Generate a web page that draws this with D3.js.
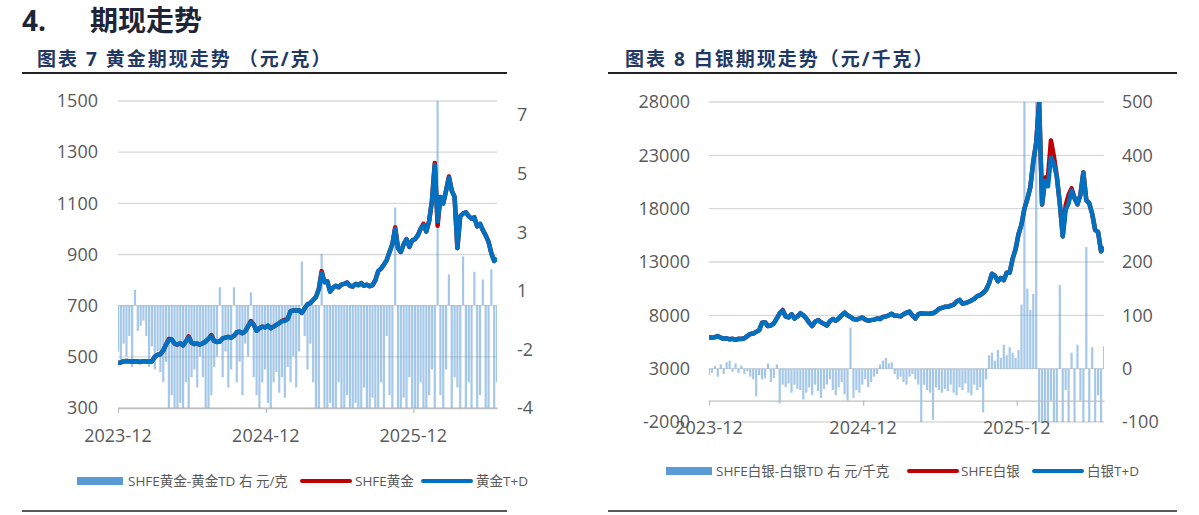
<!DOCTYPE html>
<html>
<head>
<meta charset="utf-8">
<script src="https://cdn.jsdelivr.net/npm/d3@7"></script>
<style>
    body { margin: 0; background: #fff; }
    text { font-family: "Open Sans", "Noto Sans CJK SC", sans-serif; }
</style>
</head>
<body>
<script>
// weekly points (Fridays), Dec 2023 - Jun 2026
let dates = d3.timeFriday.range(new Date(2023, 11, 1), new Date(2026, 5, 27))
let yearTicks = [new Date(2023, 11, 1), new Date(2024, 11, 1), new Date(2025, 11, 1)]

// gold, 元/克
let goldTd = [476, 478, 482, 484, 483, 481, 483, 482, 480, 483, 482, 481, 483,
    500, 508, 510, 525, 548, 565, 568, 552,
    548, 553, 545, 560, 575, 555, 550, 552, 548, 553,
    560, 570, 580, 562, 558, 560, 572, 575, 578, 575,
    582, 596, 598, 592, 600, 620, 636, 625, 602, 612,
    618, 615, 622, 612, 618, 625, 632, 640, 640, 648,
    678, 682, 680, 682, 672, 690, 705, 710, 722, 734,
    765, 828, 792, 795, 755, 770, 778, 772, 782, 785,
    790, 778, 775, 785, 780, 788, 778, 782, 776, 780,
    800, 835, 845, 860, 878, 910, 940, 1000, 925, 910,
    940, 960, 930, 955, 960, 975, 1000, 1015, 990, 1030,
    1110, 1250, 1030, 1125, 1100, 1150, 1200, 1150, 1125, 925,
    1050, 1060, 1065, 1050, 1040, 1045, 1010, 1020, 995, 975,
    950, 905, 875, 885]
let goldShfe = [476, 478, 482, 484, 483, 481, 483, 482, 480, 483, 482, 481, 483,
    500, 508, 510, 525, 548, 570, 568, 552,
    548, 553, 545, 560, 580, 555, 550, 552, 548, 553,
    560, 570, 585, 562, 558, 560, 572, 575, 578, 575,
    582, 596, 598, 592, 600, 620, 640, 625, 602, 612,
    618, 615, 622, 612, 618, 625, 632, 640, 645, 648,
    678, 682, 680, 682, 672, 690, 705, 710, 722, 734,
    765, 835, 792, 795, 755, 770, 778, 772, 782, 785,
    790, 778, 775, 785, 780, 788, 778, 782, 776, 780,
    800, 835, 845, 860, 878, 910, 940, 1006, 925, 910,
    940, 960, 930, 955, 960, 975, 1000, 1020, 990, 1030,
    1110, 1258, 1012, 1125, 1100, 1150, 1205, 1150, 1125, 925,
    1050, 1060, 1065, 1050, 1040, 1045, 1010, 1020, 995, 975,
    950, 905, 875, 885]
let goldSpread = [-1.8, -2.2, -1.5, -2.0, -1.2, -2.4,
    0.6, -1.0, -0.8,
    -0.6, -1.2, -2.4, -1.6,
    -2.5, -1.8, -2.6, -3.0, -2.2,
    -4.2, -3.5, -4.2, -4.5, -3.8, -4.2, -3.0, -4.2, -2.8,
    -2.5, -3.2, -2.0, -2.8,
    -4.2, -4.5, -3.5, -2.4,
    -2.0, 0.7, -2.8, -1.8, -3.2, -2.5, 0.7,
    -3.0, -2.2, -3.5, -1.5, -2.0, 0.5,
    -2.8, -3.5, -4.2, -3.0, -2.5,
    -3.8, -4.2, -3.0, -2.6, -3.4, -2.8, -3.6, -2.4,
    -3.0, -2.0, -3.2, -1.8, 1.7,
    -1.2, -2.5, -1.5, -3.0, -4.2,
    -4.5, 2.0, -4.2, -4.2, -3.8,
    -4.2, -4.5, -3.0, -4.2, -4.2, -3.5, -4.5, -4.2, -3.8, -4.2,
    -4.5, -3.2, -4.2, -4.2, -3.6, -4.5, -4.2, -3.0, -4.2, -1.2,
    -3.5, -4.2, 3.8, -4.2, -4.5, -3.6, -4.2, -2.8, -4.2,
    -4.2, -4.5, -3.0, -4.2, -4.2, -3.5, -2.5, -4.2,
    8.5,
    -3.5, -4.2, -2.5, 1.2, -4.2, -2.8, -3.2,
    -4.2, 1.9, -4.2, -3.0, -4.2, 1.3, -4.2, -3.5, 1.0, -4.2, -4.2, 1.4, -4.2, -3.0]

// silver, 元/千克
let silverTd = [5950, 5900, 5950, 6050, 5900, 5800, 5850, 5750, 5800, 5700, 5800, 5780, 5850,
    6050, 6250, 6300, 6450, 6600, 7300, 7350, 7000,
    7050, 7250, 7700, 8200, 8450, 7900, 7800, 8100, 7700, 7900,
    8200, 8000, 7700, 7300, 7000, 7400, 7550, 7350, 7200, 7050,
    7450, 7650, 7500, 7700, 8000, 8250, 8000, 7850, 7650, 7600,
    7700, 7800, 7600, 7500, 7550, 7600, 7700, 7650, 7850, 7900,
    8000, 8150, 7950, 7950, 7900, 8100, 8250, 8350, 8000, 7700,
    8100, 8200, 8150, 8150, 8150, 8200, 8350, 8600, 8700, 8800,
    8800, 8900, 9000, 9300, 9450, 9100, 9150, 9250, 9400, 9550,
    9800, 9900, 10100, 10400, 11000, 11900, 11700, 11200, 11500, 11300,
    12000, 12000, 13300, 14200, 15600, 16500, 18000, 18900, 20000, 22400,
    24200, 27900, 18400, 20600, 20100, 22800, 22200, 21000, 18500, 15400,
    17900, 18500, 19700, 19000, 18400, 19300, 21400, 18800, 18500, 17500,
    16000, 15800, 14000, 14400]
let silverShfe = [5950, 5900, 5950, 6050, 5900, 5800, 5850, 5750, 5800, 5700, 5800, 5780, 5850,
    6050, 6250, 6300, 6450, 6600, 7300, 7350, 7000,
    7050, 7250, 7700, 8200, 8500, 7900, 7800, 8100, 7700, 7900,
    8200, 8000, 7700, 7300, 7000, 7400, 7550, 7350, 7200, 7050,
    7450, 7650, 7500, 7700, 8000, 8250, 8000, 7850, 7650, 7600,
    7700, 7800, 7600, 7500, 7550, 7600, 7700, 7650, 7850, 7900,
    8000, 8150, 7950, 7950, 7900, 8100, 8250, 8350, 8000, 7700,
    8100, 8200, 8150, 8150, 8150, 8200, 8350, 8600, 8700, 8800,
    8800, 8900, 9000, 9300, 9450, 9100, 9150, 9250, 9400, 9550,
    9800, 9900, 10100, 10400, 11000, 11900, 11700, 11200, 11500, 11300,
    12000, 12000, 13300, 14200, 15600, 16500, 18000, 18900, 20000, 22400,
    24200, 28000, 18400, 20900, 21000, 24400, 22900, 21000, 18500, 15400,
    18300, 19300, 19900, 19000, 18400, 19300, 21400, 18800, 18500, 17500,
    16000, 15800, 14000, 14400]
let silverSpread = [-12, -8, 5, -15, 8, -10, 12, 15, -6, 10, -8,
    6, -10, -5, -15, -20, -52,
    -12, -20, -18, 10, -25, -18,
    8, -65, -30, -35, -28, -45, -30, -38,
    -40, -58, -45, -35, -50, -30, -42, -55, -38, -30,
    -20, -40, -50, -35, -25, -48, -60, 77,
    -55, -40, -45, -30, -20, -35, -25, -15,
    -10, 8, 15, 20, 10, 12, -10, -20, -15,
    -25, -30, -15, -10, -20, -30, -100,
    -30, -40, -45, -96, -35, -40, -45, -38,
    -42, -30, -45, -50, -35, -40, -28, -45, -50, -30, -40, -35,
    -82, -20, 25,
    30, 15, 35, 20, 45, 25, 40, 30, 20, 35,
    120, 520, 150, 110, 140, 520,
    -110, -110, -110, -100, -60, -110, -100, 157, -110,
    -40, -110, 30, -110, 45, -60, -110, 228, -110, 40, -110, -50, -110, 42]

// axis ticks
let goldLeftTicks = [300, 500, 700, 900, 1100, 1300, 1500]
let goldRightTicks = [-4, -1.72, 0.56, 2.84, 5.12, 7.4]
let goldRightLabels = ['-4', '-2', '1', '3', '5', '7']
let silverLeftTicks = [-2000, 3000, 8000, 13000, 18000, 23000, 28000]
let silverRightTicks = [-100, 0, 100, 200, 300, 400, 500]

function drawChart(svg, c){
    let x = d3.scaleTime().domain(d3.extent(dates)).range([c.left, c.right])
    let yL = d3.scaleLinear().domain(c.leftDomain).range([c.bottom, c.top])
    let yR = d3.scaleLinear().domain(c.rightDomain).range([c.bottom, c.top])

    svg.append('clipPath').attr('id', c.id)
        .append('rect')
        .attr('x', c.left).attr('y', c.top)
        .attr('width', c.right - c.left).attr('height', c.bottom - c.top)

    // gridlines
    svg.append('g').selectAll('line')
        .data(c.leftTicks)
        .join('line')
        .attr('x1', c.left).attr('x2', c.right)
        .attr('y1', d => yL(d)).attr('y2', d => yL(d))
        .attr('stroke', '#d9d9d9').attr('stroke-width', 1.3)

    // spread bars on the right axis
    svg.append('g').attr('clip-path', 'url(#' + c.id + ')')
        .selectAll('rect')
        .data(c.spread)
        .join('rect')
        .attr('x', (d, i) => x(dates[i]) - 1.1)
        .attr('width', 2.2)
        .attr('y', d => Math.min(yR(0), yR(d)))
        .attr('height', d => Math.abs(yR(d) - yR(0)))
        .attr('fill', '#5b9bd5')
        .attr('opacity', 0.55)

    // category axis with year ticks
    let xAxis = svg.append('g')
        .attr('transform', 'translate(0,' + yL(c.xCross) + ')')
        .call(d3.axisBottom(x).tickValues(yearTicks).tickSize(5).tickSizeOuter(0).tickFormat(''))
    xAxis.selectAll('path, line').attr('stroke', '#bfbfbf').attr('stroke-width', 1.3)

    svg.append('g').selectAll('text')
        .data(yearTicks)
        .join('text')
        .attr('x', d => x(d))
        .attr('y', c.labelY)
        .attr('text-anchor', 'middle')
        .attr('font-size', 18)
        .attr('fill', '#595959')
        .text(d => d3.timeFormat('%Y-%m')(d))

    // price lines, T+D drawn over SHFE
    let line = d3.line().x((d, i) => x(dates[i])).y(d => yL(d))
    let lines = svg.append('g').attr('clip-path', 'url(#' + c.id + ')')
    lines.append('path').attr('d', line(c.shfe))
        .attr('fill', 'none').attr('stroke', '#c00000')
        .attr('stroke-width', 4.5).attr('stroke-linejoin', 'round')
    lines.append('path').attr('d', line(c.td))
        .attr('fill', 'none').attr('stroke', '#0070c0')
        .attr('stroke-width', 4.5).attr('stroke-linejoin', 'round')

    // value axes
    let left = svg.append('g')
        .attr('transform', 'translate(' + c.left + ',0)')
        .call(d3.axisLeft(yL).tickValues(c.leftTicks).tickSize(0).tickPadding(c.padLeft)
            .tickFormat(d => String(d)))
    let right = svg.append('g')
        .attr('transform', 'translate(' + c.right + ',0)')
        .call(d3.axisRight(yR).tickValues(c.rightTicks).tickSize(0).tickPadding(c.padRight)
            .tickFormat((d, i) => c.rightLabels ? c.rightLabels[i] : String(d)))
    for (let a of [left, right]) {
        a.select('.domain').remove()
        a.attr('font-size', 18).attr('color', '#595959')
    }
}

function drawLegend(svg, l){
    let g = svg.append('g').attr('font-size', 13.5).attr('fill', '#595959')
    g.append('rect').attr('x', l.x[0]).attr('y', l.y - 4).attr('width', 46).attr('height', 8).attr('fill', '#5b9bd5')
    g.append('line').attr('x1', l.x[2]).attr('x2', l.x[2] + 48).attr('y1', l.y).attr('y2', l.y)
        .attr('stroke', '#c00000').attr('stroke-width', 4).attr('stroke-linecap', 'round')
    g.append('line').attr('x1', l.x[4]).attr('x2', l.x[4] + 48).attr('y1', l.y).attr('y2', l.y)
        .attr('stroke', '#0070c0').attr('stroke-width', 4).attr('stroke-linecap', 'round')
    l.labels.forEach((t, i) => {
        g.append('text').attr('x', l.x[i * 2 + 1]).attr('y', l.y).attr('dy', '0.35em').text(t)
    })
}

function main(){
    let svg = d3.select('body')
        .append('svg')
        .attr('width', 1199)
        .attr('height', 515)

    // section heading
    svg.append('text').attr('x', 22).attr('y', 31).attr('font-size', 28).attr('font-weight', 'bold')
        .attr('fill', '#1d2536').text('4.')
    svg.append('text').attr('x', 90).attr('y', 31).attr('font-size', 28).attr('font-weight', 'bold')
        .attr('fill', '#1d2536').text('期现走势')

    // chart titles and rules
    let titles = [
        {text: '图表 7 黄金期现走势 （元/克）', x: 37, x1: 22, x2: 507},
        {text: '图表 8 白银期现走势（元/千克）', x: 625, x1: 608, x2: 1177}
    ]
    for (let t of titles) {
        svg.append('text').attr('x', t.x).attr('y', 66)
            .attr('font-size', 19).attr('font-weight', 'bold').attr('letter-spacing', 2)
            .attr('fill', '#1f3864')
            .text(t.text)
        svg.append('line').attr('x1', t.x1).attr('x2', t.x2).attr('y1', 73).attr('y2', 73)
            .attr('stroke', '#222').attr('stroke-width', 2)
        svg.append('line').attr('x1', t.x1).attr('x2', t.x2).attr('y1', 511).attr('y2', 511)
            .attr('stroke', '#222').attr('stroke-width', 1.5)
    }

    drawChart(svg, {
        id: 'clipGold', left: 118, right: 497, top: 101, bottom: 408,
        leftDomain: [300, 1500], rightDomain: [-4, 7.95],
        leftTicks: goldLeftTicks, rightTicks: goldRightTicks, rightLabels: goldRightLabels,
        xCross: 300, labelY: 442, padLeft: 20, padRight: 20,
        spread: goldSpread, shfe: goldShfe, td: goldTd
    })
    drawChart(svg, {
        id: 'clipSilver', left: 709, right: 1104, top: 102, bottom: 422,
        leftDomain: [-2000, 28000], rightDomain: [-100, 500],
        leftTicks: silverLeftTicks, rightTicks: silverRightTicks,
        xCross: 0, labelY: 434, padLeft: 19, padRight: 18,
        spread: silverSpread, shfe: silverShfe, td: silverTd
    })

    drawLegend(svg, {y: 481, x: [77, 128, 302, 355, 423, 476],
        labels: ['SHFE黄金-黄金TD 右 元/克', 'SHFE黄金', '黄金T+D']})
    drawLegend(svg, {y: 471, x: [666, 716, 909, 961, 1034, 1087],
        labels: ['SHFE白银-白银TD 右 元/千克', 'SHFE白银', '白银T+D']})
}

main()
</script>
</body>
</html>
